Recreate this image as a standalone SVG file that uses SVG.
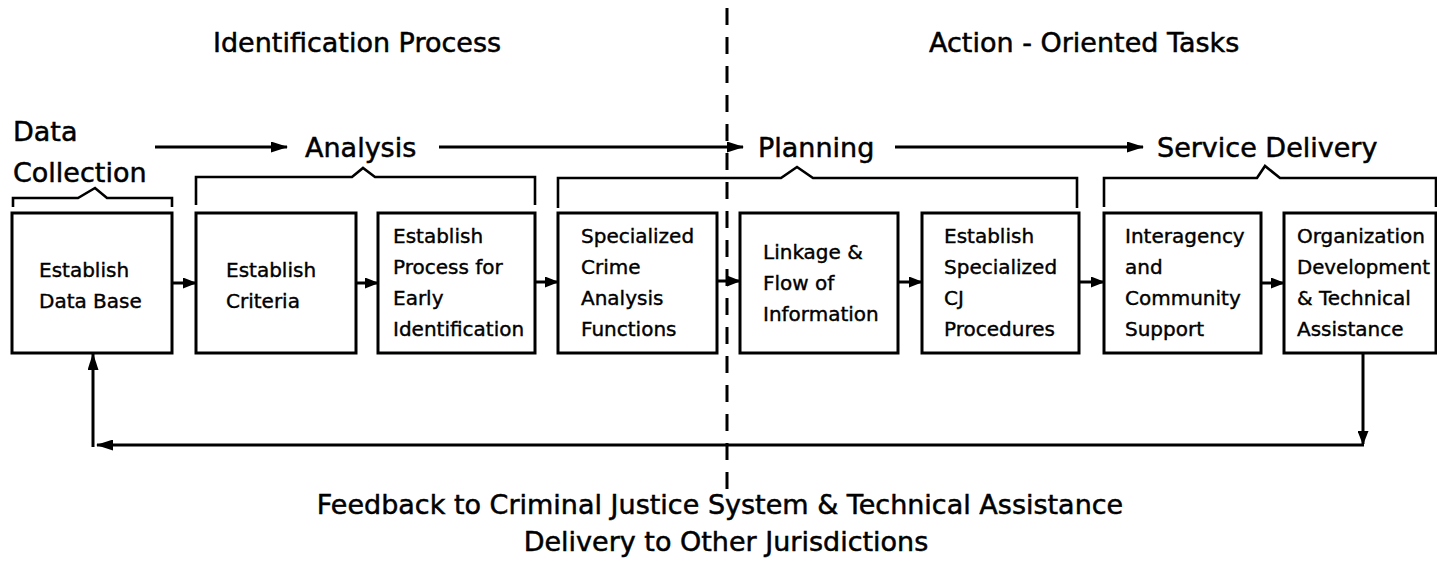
<svg xmlns="http://www.w3.org/2000/svg" width="1437" height="578" viewBox="0 0 1437 578">
<style>
  .bg { fill: #ffffff; }
  .box { fill: #ffffff; stroke: #000; stroke-width: 3; }
  .lbl { font-family: "DejaVu Sans", "Liberation Sans", sans-serif; font-size: 20px; fill: #000; stroke: #000; stroke-width: 0.4; }
  .big { font-family: "DejaVu Sans", "Liberation Sans", sans-serif; font-size: 27px; fill: #000; stroke: #000; stroke-width: 0.5; }
  .ln { fill: none; stroke: #000; stroke-width: 3; }
  .br { fill: none; stroke: #000; stroke-width: 2.6; stroke-linejoin: miter; }
  .dash { fill: none; stroke: #000; stroke-width: 3; stroke-dasharray: 17 12; }
</style>
<defs>
  <marker id="ah" viewBox="0 0 14 11" refX="13" refY="5.5" markerWidth="14" markerHeight="11" markerUnits="userSpaceOnUse" orient="auto">
    <path d="M0,0 L14,5.5 L0,11 z" fill="#000"/>
  </marker>
  <marker id="ahl" viewBox="0 0 17 11" refX="16" refY="5.5" markerWidth="17" markerHeight="11" markerUnits="userSpaceOnUse" orient="auto">
    <path d="M0,0 L17,5.5 L0,11 z" fill="#000"/>
  </marker>
</defs>
<rect class="bg" x="0" y="0" width="1437" height="578"/>

<g id="headers">
  <text class="big" x="213" y="52">Identification Process</text>
  <text class="big" x="929" y="52">Action - Oriented Tasks</text>
</g>

<g id="divider">
  <line class="dash" x1="727" y1="8" x2="727" y2="489"/>
</g>

<g id="stage-data-collection">
  <text class="big" x="13" y="141">Data</text>
  <text class="big" x="13" y="182">Collection</text>
  <path class="br" d="M13,207 V198 H78 L95,188 L107,198 H172 V207"/>
</g>
<g id="stage-analysis">
  <text class="big" x="305" y="157">Analysis</text>
  <path class="br" d="M196,205 V177 H352 L363,168 L375,177 H535 V205"/>
</g>
<g id="stage-planning">
  <text class="big" x="758" y="157">Planning</text>
  <path class="br" d="M558,208 V178 H781 L797,167 L813,178 H1077 V208"/>
</g>
<g id="stage-service-delivery">
  <text class="big" x="1157" y="157">Service Delivery</text>
  <path class="br" d="M1104,207 V178 H1257 L1265,166 L1280,178 H1436 V207"/>
</g>

<g id="n1">
  <rect class="box" x="12" y="213" width="160" height="140"/>
  <text class="lbl" x="39" y="277">Establish</text>
  <text class="lbl" x="39" y="308">Data Base</text>
</g>
<g id="n2">
  <rect class="box" x="196" y="213" width="160" height="140"/>
  <text class="lbl" x="226" y="277">Establish</text>
  <text class="lbl" x="226" y="308">Criteria</text>
</g>
<g id="n3">
  <rect class="box" x="378" y="213" width="157" height="140"/>
  <text class="lbl" x="393" y="243">Establish</text>
  <text class="lbl" x="393" y="274">Process for</text>
  <text class="lbl" x="393" y="305">Early</text>
  <text class="lbl" x="393" y="336">Identification</text>
</g>
<g id="n4">
  <rect class="box" x="558" y="213" width="159" height="140"/>
  <text class="lbl" x="581" y="243">Specialized</text>
  <text class="lbl" x="581" y="274">Crime</text>
  <text class="lbl" x="581" y="305">Analysis</text>
  <text class="lbl" x="581" y="336">Functions</text>
</g>
<g id="n5">
  <rect class="box" x="740" y="213" width="158" height="140"/>
  <text class="lbl" x="763" y="259">Linkage &amp;</text>
  <text class="lbl" x="763" y="290">Flow of</text>
  <text class="lbl" x="763" y="321">Information</text>
</g>
<g id="n6">
  <rect class="box" x="922" y="213" width="157" height="140"/>
  <text class="lbl" x="944" y="243">Establish</text>
  <text class="lbl" x="944" y="274">Specialized</text>
  <text class="lbl" x="944" y="305">CJ</text>
  <text class="lbl" x="944" y="336">Procedures</text>
</g>
<g id="n7">
  <rect class="box" x="1104" y="213" width="157" height="140"/>
  <text class="lbl" x="1125" y="243">Interagency</text>
  <text class="lbl" x="1125" y="274">and</text>
  <text class="lbl" x="1125" y="305">Community</text>
  <text class="lbl" x="1125" y="336">Support</text>
</g>
<g id="n8">
  <rect class="box" x="1284" y="213" width="152" height="140"/>
  <text class="lbl" x="1297" y="243">Organization</text>
  <text class="lbl" x="1297" y="274" textLength="133" lengthAdjust="spacingAndGlyphs">Development</text>
  <text class="lbl" x="1297" y="305">&amp; Technical</text>
  <text class="lbl" x="1297" y="336">Assistance</text>
</g>

<g id="connectors">
  <line class="ln" x1="155" y1="147" x2="287" y2="147" marker-end="url(#ahl)"/>
  <line class="ln" x1="439" y1="147" x2="743" y2="147" marker-end="url(#ahl)"/>
  <line class="ln" x1="895" y1="147" x2="1143" y2="147" marker-end="url(#ahl)"/>

  <line class="ln" x1="172" y1="283" x2="196" y2="283" marker-end="url(#ah)"/>
  <line class="ln" x1="356" y1="283" x2="378" y2="283" marker-end="url(#ah)"/>
  <line class="ln" x1="535" y1="282" x2="558" y2="282" marker-end="url(#ah)"/>
  <line class="ln" x1="717" y1="281" x2="740" y2="281" marker-end="url(#ah)"/>
  <line class="ln" x1="898" y1="282" x2="922" y2="282" marker-end="url(#ah)"/>
  <line class="ln" x1="1079" y1="282" x2="1104" y2="282" marker-end="url(#ah)"/>
  <line class="ln" x1="1261" y1="283" x2="1284" y2="283" marker-end="url(#ah)"/>

  <line class="ln" x1="1363" y1="353" x2="1363" y2="444" marker-end="url(#ah)"/>
  <line class="ln" x1="1364" y1="445" x2="97" y2="445" marker-end="url(#ahl)"/>
  <line class="ln" x1="93" y1="447" x2="93" y2="354" marker-end="url(#ahl)"/>
</g>

<g id="footer">
  <text class="big" x="720" y="514" text-anchor="middle">Feedback to Criminal Justice System &amp; Technical Assistance</text>
  <text class="big" x="726" y="551" text-anchor="middle">Delivery to Other Jurisdictions</text>
</g>
</svg>
